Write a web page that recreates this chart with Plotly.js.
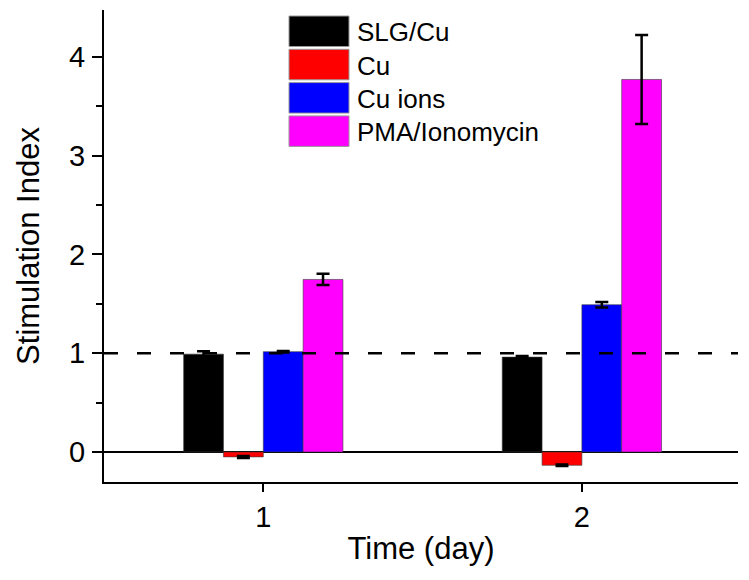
<!DOCTYPE html>
<html>
<head>
<meta charset="utf-8">
<script src="https://cdn.plot.ly/plotly-3.0.1.min.js"></script>
<style>html,body{margin:0;padding:0;background:#fff;}#chart{width:749px;height:580px;}</style>
</head>
<body>
<div id="chart"></div>
<script>
var days = [1, 2];
var seriesNames = ['SLG/Cu', 'Cu', 'Cu ions', 'PMA/Ionomycin'];
var seriesColors = ['#000000', '#ff0000', '#0000ff', '#ff00ff'];
var slgCu = [0.99, 0.96];
var slgCuErr = [0.03, 0.01];
var cu = [-0.05, -0.135];
var cuErr = [0.01, 0.008];
var cuIons = [1.015, 1.49];
var cuIonsErr = [0.008, 0.028];
var pma = [1.746, 3.77];
var pmaErr = [0.057, 0.45];
var referenceLevel = 1;

var values = [slgCu, cu, cuIons, pma];
var errors = [slgCuErr, cuErr, cuIonsErr, pmaErr];

var FONT = 'Arial, "Liberation Sans", Helvetica, sans-serif';

var traces = values.map(function (v, i) {
  return {
    type: 'bar',
    x: days,
    y: v,
    name: seriesNames[i],
    marker: {color: seriesColors[i], line: {color: 'rgba(60,60,60,0.6)', width: 1}},
    error_y: {type: 'data', array: errors[i], visible: true, color: '#000', thickness: 2.5, width: 6.5},
    showlegend: false,
    hoverinfo: 'x+y+name'
  };
});

// layout helpers: plot area in pixels
var L = 104, R = 738, T = 10, B = 482;
function px(xp) { return (xp - L) / (R - L); }
function py(yp) { return 1 - (yp - T) / (B - T); }

var shapes = [
  {type: 'line', xref: 'paper', yref: 'y', x0: 0, x1: 1, y0: referenceLevel, y1: referenceLevel,
   line: {color: '#000', width: 2.5, dash: '14px,19px'}, layer: 'above'}
];
var annotations = [];
seriesNames.forEach(function (n, i) {
  var top = 16 + i * 33.3;
  var bot = top + 30.5;
  shapes.push({type: 'rect', xref: 'paper', yref: 'paper',
    x0: px(289), x1: px(349), y0: py(bot), y1: py(top),
    fillcolor: seriesColors[i], line: {color: '#999', width: 1}, layer: 'above'});
  annotations.push({xref: 'paper', yref: 'paper', x: px(355), y: py((top + bot) / 2 + 1),
    xanchor: 'left', yanchor: 'middle', text: n, showarrow: false,
    font: {family: FONT, size: 26, color: '#000'}});
});

var layout = {
  width: 749, height: 580,
  margin: {l: L, r: 749 - R, t: T, b: 580 - B},
  paper_bgcolor: '#fff', plot_bgcolor: '#fff',
  barmode: 'group', bargap: 0.5, bargroupgap: 0,
  font: {family: FONT, size: 28, color: '#000'},
  xaxis: {
    range: [0.5, 2.49], tickvals: days, ticktext: days.map(String),
    ticks: 'outside', ticklen: 8, tickwidth: 2, tickcolor: '#000',
    showline: true, linecolor: '#000', linewidth: 2, mirror: false,
    showgrid: false, zeroline: false, ticklabelstandoff: 0,
    tickfont: {family: FONT, size: 29, color: '#000'},
    title: {text: 'Time (day)', font: {family: FONT, size: 31, color: '#000'}, standoff: 6}
  },
  yaxis: {
    range: [-0.304, 4.473], tickvals: [0, 1, 2, 3, 4],
    ticks: 'outside', ticklen: 10, tickwidth: 2, tickcolor: '#000',
    minor: {tickvals: [0.5, 1.5, 2.5, 3.5], ticks: 'outside', ticklen: 6, tickwidth: 2, tickcolor: '#000', showgrid: false},
    showline: true, linecolor: '#000', linewidth: 2,
    showgrid: false, zeroline: true, zerolinecolor: '#000', zerolinewidth: 2,
    ticklabelstandoff: 1,
    tickfont: {family: FONT, size: 29, color: '#000'},
    title: {text: 'Stimulation Index', font: {family: FONT, size: 31, color: '#000'}, standoff: 20}
  },
  shapes: shapes,
  annotations: annotations,
  showlegend: false
};

Plotly.newPlot('chart', traces, layout, {displayModeBar: false, staticPlot: true});
</script>
</body>
</html>
